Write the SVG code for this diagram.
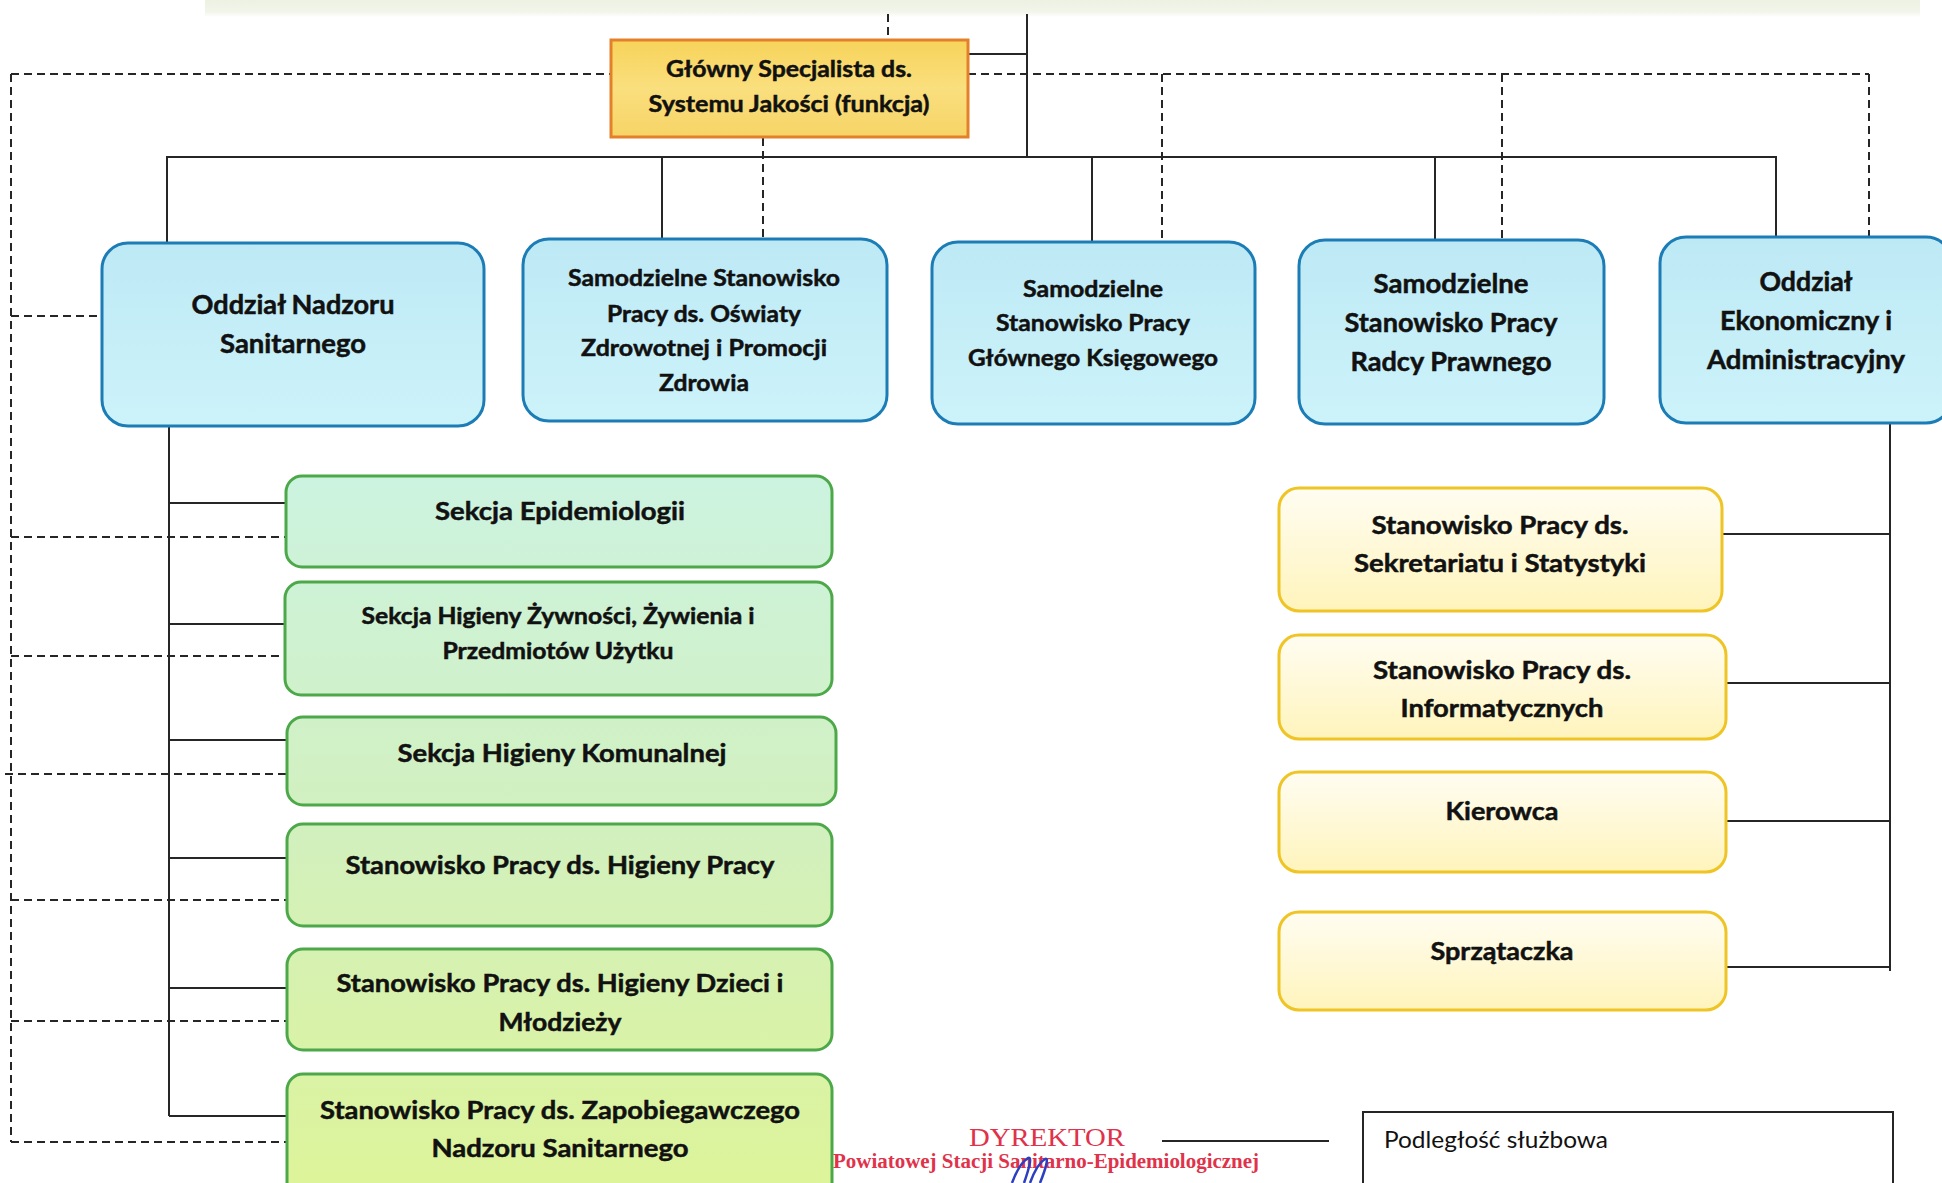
<svg xmlns="http://www.w3.org/2000/svg" width="1942" height="1183" viewBox="0 0 1942 1183">
<defs>
<linearGradient id="gOrange" x1="0" y1="0" x2="0" y2="1"><stop offset="0" stop-color="#F7D35A"/><stop offset="0.5" stop-color="#FADF7E"/><stop offset="1" stop-color="#F6D466"/></linearGradient>
<linearGradient id="gBlue" x1="0" y1="0" x2="0" y2="1"><stop offset="0" stop-color="#BDE9F5"/><stop offset="1" stop-color="#CDF3FA"/></linearGradient>
<linearGradient id="gGreen" gradientUnits="userSpaceOnUse" x1="0" y1="476" x2="0" y2="1183"><stop offset="0" stop-color="#CCF3E0"/><stop offset="0.5" stop-color="#D2F0BE"/><stop offset="1" stop-color="#DDF49A"/></linearGradient>
<linearGradient id="gYellow" x1="0" y1="0" x2="0" y2="1"><stop offset="0" stop-color="#FFFDF2"/><stop offset="1" stop-color="#FFF4BC"/></linearGradient>
<linearGradient id="gBand" x1="0" y1="0" x2="0" y2="1"><stop offset="0" stop-color="#EDF1E2"/><stop offset="0.7" stop-color="#F2F5EA"/><stop offset="1" stop-color="#FFFFFF"/></linearGradient>
<style>
.ln{stroke:#262626;stroke-width:2;fill:none}
.ds{stroke:#262626;stroke-width:2;fill:none;stroke-dasharray:8 5}
.orange{fill:url(#gOrange);stroke:#E5802A;stroke-width:3}
.blue{fill:url(#gBlue);stroke:#1C7DB6;stroke-width:3}
.green{fill:url(#gGreen);stroke:#4DA84A;stroke-width:3}
.yellow{fill:url(#gYellow);stroke:#EFC425;stroke-width:3}
.t{font-family:Lato,"Liberation Sans",sans-serif;font-weight:700;fill:#111;stroke:#111;stroke-width:0.5;text-anchor:middle}
.f22{font-size:23.5px}.f25{font-size:27px}.f24{font-size:25.5px}.f21{font-size:22.5px}
.leg{font-family:Lato,"Liberation Sans",sans-serif;font-size:23px;fill:#111}
.stamp{font-family:"Liberation Serif","DejaVu Serif",serif;fill:#E0324A;text-anchor:middle}
</style>
</defs>
<rect x="0" y="0" width="1942" height="1183" fill="#FFFFFF"/>
<rect x="205" y="0" width="1715" height="17" fill="url(#gBand)"/>

<g id="connectors">
<path class="ln" d="M1027 14V157M968 54H1027M166 157H1777M167 157V243M662 157V239M1092 157V242M1435 157V240M1776 157V237"/>
<path class="ds" d="M888 14V40M11 74H611M968 74H1869M1162 74V242M1502 74V240M1869 74V237M763 138V239"/>
<path class="ds" d="M11 74V1142M11 316H102M11 537H286M11 656H285M5 774H287M11 900H287M11 1021H287M11 1142H287"/>
<path class="ln" d="M169 427V1116M169 503H286M169 624H285M169 740H287M169 858H287M169 988H287M169 1116H287"/>
<path class="ln" d="M1890 424V971M1722 534H1890M1726 683H1890M1726 821H1890M1726 967H1890"/>
<path class="ln" d="M1162 1141H1329"/>
</g>

<g id="n-glowny-specjalista">
<rect class="orange" x="611" y="40" width="357" height="97"/>
<text class="t f22" x="789" y="77" textLength="246" lengthAdjust="spacingAndGlyphs">Główny Specjalista ds.</text>
<text class="t f22" x="789" y="112" textLength="281" lengthAdjust="spacingAndGlyphs">Systemu Jakości (funkcja)</text>
</g>

<g id="n-oddzial-nadzoru">
<rect class="blue" x="102" y="243" width="382" height="183" rx="26"/>
<text class="t f25" x="293" y="314" textLength="203" lengthAdjust="spacingAndGlyphs">Oddział Nadzoru</text>
<text class="t f25" x="293" y="353" textLength="146" lengthAdjust="spacingAndGlyphs">Sanitarnego</text>
</g>

<g id="n-oswiata">
<rect class="blue" x="523" y="239" width="364" height="182" rx="26"/>
<text class="t f22" x="704" y="286" textLength="272" lengthAdjust="spacingAndGlyphs">Samodzielne Stanowisko</text>
<text class="t f22" x="704" y="322" textLength="194" lengthAdjust="spacingAndGlyphs">Pracy ds. Oświaty</text>
<text class="t f22" x="704" y="356" textLength="246" lengthAdjust="spacingAndGlyphs">Zdrowotnej i Promocji</text>
<text class="t f22" x="704" y="391" textLength="90" lengthAdjust="spacingAndGlyphs">Zdrowia</text>
</g>

<g id="n-ksiegowy">
<rect class="blue" x="932" y="242" width="323" height="182" rx="26"/>
<text class="t f22" x="1093" y="297" textLength="140" lengthAdjust="spacingAndGlyphs">Samodzielne</text>
<text class="t f22" x="1093" y="331" textLength="194" lengthAdjust="spacingAndGlyphs">Stanowisko Pracy</text>
<text class="t f22" x="1093" y="366" textLength="250" lengthAdjust="spacingAndGlyphs">Głównego Księgowego</text>
</g>

<g id="n-radca">
<rect class="blue" x="1299" y="240" width="305" height="184" rx="26"/>
<text class="t f25" x="1451" y="293" textLength="155" lengthAdjust="spacingAndGlyphs">Samodzielne</text>
<text class="t f25" x="1451" y="332" textLength="213" lengthAdjust="spacingAndGlyphs">Stanowisko Pracy</text>
<text class="t f25" x="1451" y="371" textLength="201" lengthAdjust="spacingAndGlyphs">Radcy Prawnego</text>
</g>

<g id="n-ekonomiczny">
<rect class="blue" x="1660" y="237" width="292" height="186" rx="26"/>
<text class="t f25" x="1806" y="291" textLength="93" lengthAdjust="spacingAndGlyphs">Oddział</text>
<text class="t f25" x="1806" y="330" textLength="172" lengthAdjust="spacingAndGlyphs">Ekonomiczny i</text>
<text class="t f25" x="1806" y="369" textLength="198" lengthAdjust="spacingAndGlyphs">Administracyjny</text>
</g>

<g id="n-epidemiologia">
<rect class="green" x="286" y="476" width="546" height="91" rx="16"/>
<text class="t f24" x="560" y="520" textLength="250" lengthAdjust="spacingAndGlyphs">Sekcja Epidemiologii</text>
</g>

<g id="n-higiena-zywnosci">
<rect class="green" x="285" y="582" width="547" height="113" rx="16"/>
<text class="t f21" x="558" y="624" textLength="393" lengthAdjust="spacingAndGlyphs">Sekcja Higieny Żywności, Żywienia i</text>
<text class="t f21" x="558" y="659" textLength="231" lengthAdjust="spacingAndGlyphs">Przedmiotów Użytku</text>
</g>

<g id="n-higiena-komunalna">
<rect class="green" x="287" y="717" width="549" height="88" rx="16"/>
<text class="t f24" x="562" y="762" textLength="329" lengthAdjust="spacingAndGlyphs">Sekcja Higieny Komunalnej</text>
</g>

<g id="n-higiena-pracy">
<rect class="green" x="287" y="824" width="545" height="102" rx="16"/>
<text class="t f24" x="560" y="874" textLength="429" lengthAdjust="spacingAndGlyphs">Stanowisko Pracy ds. Higieny Pracy</text>
</g>

<g id="n-higiena-dzieci">
<rect class="green" x="287" y="949" width="545" height="101" rx="16"/>
<text class="t f24" x="560" y="992" textLength="447" lengthAdjust="spacingAndGlyphs">Stanowisko Pracy ds. Higieny Dzieci i</text>
<text class="t f24" x="560" y="1031" textLength="123" lengthAdjust="spacingAndGlyphs">Młodzieży</text>
</g>

<g id="n-zapobiegawczy">
<rect class="green" x="287" y="1074" width="545" height="130" rx="16"/>
<text class="t f24" x="560" y="1119" textLength="480" lengthAdjust="spacingAndGlyphs">Stanowisko Pracy ds. Zapobiegawczego</text>
<text class="t f24" x="560" y="1157" textLength="257" lengthAdjust="spacingAndGlyphs">Nadzoru Sanitarnego</text>
</g>

<g id="n-sekretariat">
<rect class="yellow" x="1279" y="488" width="443" height="123" rx="20"/>
<text class="t f24" x="1500" y="534" textLength="257" lengthAdjust="spacingAndGlyphs">Stanowisko Pracy ds.</text>
<text class="t f24" x="1500" y="572" textLength="292" lengthAdjust="spacingAndGlyphs">Sekretariatu i Statystyki</text>
</g>

<g id="n-informatyk">
<rect class="yellow" x="1279" y="635" width="447" height="104" rx="20"/>
<text class="t f24" x="1502" y="679" textLength="258" lengthAdjust="spacingAndGlyphs">Stanowisko Pracy ds.</text>
<text class="t f24" x="1502" y="717" textLength="203" lengthAdjust="spacingAndGlyphs">Informatycznych</text>
</g>

<g id="n-kierowca">
<rect class="yellow" x="1279" y="772" width="447" height="100" rx="20"/>
<text class="t f24" x="1502" y="820" textLength="113" lengthAdjust="spacingAndGlyphs">Kierowca</text>
</g>

<g id="n-sprzataczka">
<rect class="yellow" x="1279" y="912" width="447" height="98" rx="20"/>
<text class="t f24" x="1502" y="960" textLength="143" lengthAdjust="spacingAndGlyphs">Sprzątaczka</text>
</g>

<g id="stamp">
<text class="stamp" x="1047" y="1146" font-size="25" textLength="156" lengthAdjust="spacingAndGlyphs">DYREKTOR</text>
<text class="stamp" x="1046" y="1168" font-size="20" font-weight="700" textLength="426" lengthAdjust="spacingAndGlyphs">Powiatowej Stacji Sanitarno-Epidemiologicznej</text>
<path d="M1012 1183C1016 1172 1022 1162 1028 1158C1032 1156 1030 1166 1024 1183M1030 1183C1034 1172 1040 1162 1045 1159C1049 1157 1046 1168 1040 1183" fill="none" stroke="#2B3FC0" stroke-width="2.5"/>
</g>

<g id="legend">
<rect x="1363" y="1112" width="530" height="100" fill="none" stroke="#262626" stroke-width="2"/>
<text class="leg" x="1384" y="1148" textLength="224" lengthAdjust="spacingAndGlyphs">Podległość służbowa</text>
</g>
</svg>
